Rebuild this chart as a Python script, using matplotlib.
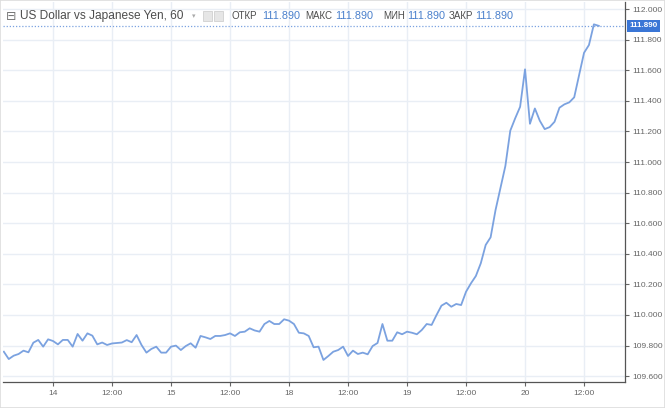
import numpy as np
import matplotlib
matplotlib.use("Agg")
from matplotlib import pyplot as plt
from matplotlib.patches import Rectangle

# hourly closes, hour 0 = day "14" 00:00 (weekend squeezed out like the source chart)
hours = np.arange(-10, 112)
closes = [
    109.760, 109.712, 109.734, 109.745, 109.767, 109.756, 109.819, 109.837, 109.793, 109.841,
    109.830, 109.808, 109.837, 109.837, 109.793, 109.876, 109.832, 109.880, 109.865, 109.808,
    109.820, 109.804, 109.814, 109.817, 109.820, 109.836, 109.822, 109.869, 109.804, 109.754,
    109.778, 109.793, 109.754, 109.754, 109.793, 109.800, 109.771, 109.797, 109.815, 109.786,
    109.863, 109.854, 109.843, 109.863, 109.863, 109.869, 109.880, 109.863, 109.887, 109.891,
    109.913, 109.899, 109.891, 109.941, 109.961, 109.941, 109.941, 109.972, 109.963, 109.941,
    109.884, 109.880, 109.863, 109.789, 109.793, 109.706, 109.732, 109.760, 109.771, 109.793,
    109.732, 109.767, 109.745, 109.754, 109.743, 109.797, 109.817, 109.941, 109.832, 109.832,
    109.887, 109.874, 109.891, 109.884, 109.874, 109.902, 109.941, 109.935, 110.000, 110.061,
    110.080, 110.054, 110.072, 110.065, 110.152, 110.207, 110.255, 110.338, 110.458, 110.508,
    110.686, 110.830, 110.974, 111.205, 111.286, 111.361, 111.606, 111.250, 111.350, 111.270,
    111.215, 111.228, 111.263, 111.355, 111.377, 111.390, 111.423, 111.569, 111.714, 111.765,
    111.900, 111.890,
]
last_price = 111.890

xtick_hours = [0, 12, 24, 36, 48, 60, 72, 84, 96, 108]
xtick_labels = ["14", "12:00", "15", "12:00", "18", "12:00", "19", "12:00", "20", "12:00"]
ytick_vals = np.round(np.arange(109.6, 112.01, 0.2), 1)

# header labels with x positions (px) of label and of its value
header_items = [("ОТКР", 232, 262), ("МАКС", 305, 335), ("МИН", 383, 407), ("ЗАКР", 449, 475)]

plt.rcParams["font.family"] = ["Liberation Sans", "DejaVu Sans"]

W, H = 665, 408
fig = plt.figure(figsize=(W / 100, H / 100), dpi=100)
ax = fig.add_axes([3 / W, (H - 382) / H, 622 / W, 380 / H])

line_col = "#7ba2e0"
grid_col = "#e9eef5"
text_col = "#4d4d4d"
blue = "#4a80cc"

ax.plot(hours, closes, color=line_col, lw=1.3, solid_joinstyle="round")
ax.axhline(last_price, color=line_col, lw=0.9, ls=(0, (1, 1.5)))

ax.set_xlim(-10.17, 116.33)
ax.set_ylim(109.562, 112.046)
ax.set_xticks(xtick_hours)
ax.set_xticklabels(xtick_labels)
ax.set_yticks(ytick_vals)
ax.set_yticklabels([f"{v:.3f}" for v in ytick_vals])
ax.yaxis.tick_right()
ax.grid(True, color=grid_col, lw=1)
ax.set_axisbelow(True)
ax.tick_params(axis="both", colors="#666666", labelcolor="#666666", labelsize=6,
               length=3, width=0.8, pad=2.5)
ax.tick_params(axis="x", pad=3)

for s in ["top", "left"]:
    ax.spines[s].set_visible(False)
for s in ["right", "bottom"]:
    ax.spines[s].set_color("#555555")
    ax.spines[s].set_linewidth(0.9)

# current price tag on the price scale
yl = ax.get_ylim()
tag_y = (last_price - yl[0]) / (yl[1] - yl[0])
ax.text(1.007, tag_y, f"{last_price:.3f}", transform=ax.transAxes, ha="left", va="center",
        fontsize=5.8, color="white", fontweight="bold",
        bbox=dict(boxstyle="square,pad=0.35", fc="#3a76d6", ec="none"), clip_on=False)

# header row
hy = 1 - 16 / H
fig.text(6 / W, hy, "⊟", fontsize=9, color="#777777", va="center", family="DejaVu Sans")
fig.text(20 / W, hy, "US Dollar vs Japanese Yen, 60", fontsize=8.6, color=text_col, va="center")
fig.text(192 / W, hy, "▾", fontsize=5, color="#aaaaaa", va="center", family="DejaVu Sans")
for px in (203, 214):
    fig.patches.append(Rectangle((px / W, (H - 21) / H), 9 / W, 10 / H, transform=fig.transFigure,
                                 fc="#e6e6e6", ec="#d0d0d0", lw=0.6))
for label, px, vx in header_items:
    fig.text(px / W, hy, label, fontsize=7, color=text_col, va="center")
    fig.text(vx / W, hy, f"{last_price:.3f}", fontsize=7.8, color=blue, va="center")

# light outer frame
fig.patches.append(Rectangle((0, 0), 1, 1, transform=fig.transFigure, fill=False,
                             ec="#dddddd", lw=1.2))

fig.savefig("out.png", dpi=100)
